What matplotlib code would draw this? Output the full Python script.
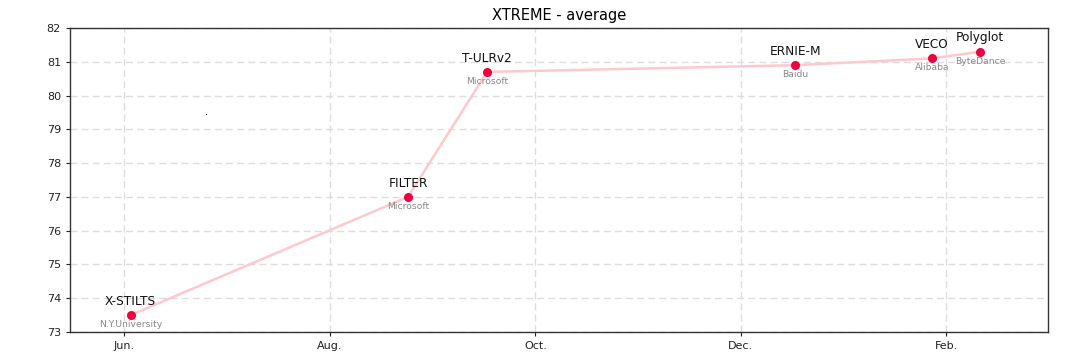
import matplotlib
matplotlib.use('Agg')
import matplotlib.pyplot as plt

# ---------------------------------------------------------------------------
# Data (x = months since Jun.)
# ---------------------------------------------------------------------------
models = ['X-STILTS', 'FILTER', 'T-ULRv2', 'ERNIE-M', 'VECO', 'Polyglot']
orgs = ['N.Y.University', 'Microsoft', 'Microsoft', 'Baidu', 'Alibaba', 'ByteDance']
month_pos = [0.06, 2.76, 3.53, 6.53, 7.86, 8.33]
scores = [73.5, 77.0, 80.7, 80.9, 81.1, 81.3]

tick_pos = [0, 2, 4, 6, 8]
tick_labels = ['Jun.', 'Aug.', 'Oct.', 'Dec.', 'Feb.']
ytick_vals = [73, 74, 75, 76, 77, 78, 79, 80, 81, 82]

# stray dot visible in the original
stray_x, stray_y = [0.79], [79.45]

# ---------------------------------------------------------------------------
fig = plt.figure(figsize=(10.8, 3.61), dpi=100)
ax = fig.add_axes([0.0648, 0.0803, 0.9056, 0.8421])

ax.plot(month_pos, scores, color='#ffc8cc', lw=1.8, zorder=2)
ax.scatter(month_pos, scores, s=30, color='#f0003c', zorder=3)
ax.plot(stray_x, stray_y, 's', ms=0.8, color='black', mew=0, zorder=3)

for x, y, name, org in zip(month_pos, scores, models, orgs):
    ax.annotate(name, (x, y), xytext=(0, 10), textcoords='offset points',
                ha='center', va='center', fontsize=8.7, color='#111111', zorder=4)
    ax.annotate(org, (x, y), xytext=(0, -6.8), textcoords='offset points',
                ha='center', va='center', fontsize=6.7, color='#888888', zorder=4)

ax.set_xlim(-0.53, 8.99)
ax.set_ylim(73, 82)
ax.set_xticks(tick_pos)
ax.set_xticklabels(tick_labels)
ax.set_yticks(ytick_vals)
ax.tick_params(labelsize=8, colors='#222222', length=3)

ax.grid(True, ls=(0, (5, 3)), color='#dddddd', lw=1)
ax.set_axisbelow(True)
for s in ax.spines.values():
    s.set_color('#333333')
    s.set_linewidth(1)

ax.set_title('XTREME - average', fontsize=10.5, pad=6)

fig.savefig('out.png', dpi=100)
